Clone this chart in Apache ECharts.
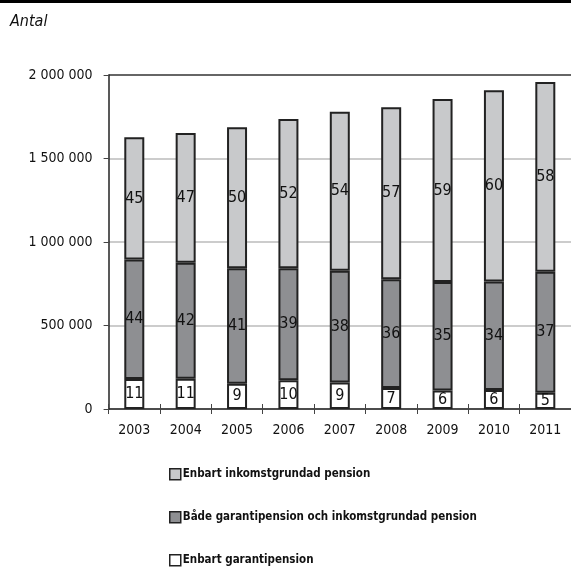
<!DOCTYPE html>
<html>
<head>
<meta charset="utf-8">
<script src="https://cdn.jsdelivr.net/npm/echarts@6/dist/echarts.min.js"></script>
<style>
  html, body { margin: 0; padding: 0; background: #fff; }
  #chart { width: 571px; height: 567px; }
</style>
</head>
<body>
<div id="chart"></div>
<script>
// Pensioners by type of pension, 2003–2011 (total count and share in percent)
var years = ['2003', '2004', '2005', '2006', '2007', '2008', '2009', '2010', '2011'];
var totals = [1627000, 1653000, 1687000, 1719000, 1762000, 1807000, 1856000, 1908000, 1958000];
var pctGarantiOnly = [11, 11, 9, 10, 9, 7, 6, 6, 5];
var pctBoth = [44, 42, 41, 39, 38, 36, 35, 34, 37];
var pctIncomeOnly = [45, 47, 50, 52, 54, 57, 59, 60, 58];
var yTicks = [0, 500000, 1000000, 1500000, 2000000];

var nameIncome = 'Enbart inkomstgrundad pension';
var nameBoth = 'Både garantipension och inkomstgrundad pension';
var nameGaranti = 'Enbart garantipension';
var legendOrder = [nameIncome, nameBoth, nameGaranti];

var FONT = '"Liberation Sans Narrow", "DejaVu Sans Condensed", "Liberation Sans", sans-serif';

// Each segment is the share of the year's total; the label shows the share.
function segment(pcts) {
  return pcts.map(function (p, i) {
    return { value: totals[i] * p / 100, pct: p };
  });
}

function fmtThousands(v) {
  return String(v).replace(/\B(?=(\d{3})+(?!\d))/g, ' ');
}

function barSeries(name, pcts, color) {
  return {
    name: name,
    type: 'bar',
    stack: 'total',
    barWidth: 20,
    data: segment(pcts),
    itemStyle: { color: color, borderColor: '#222', borderWidth: 2 },
    label: {
      show: true,
      position: 'inside',
      color: '#111',
      fontFamily: FONT,
      fontSize: 16,
      formatter: function (p) { return p.data.pct; }
    },
    emphasis: { disabled: true }
  };
}

// One legend block per entry, stacked vertically under the plot
var legends = legendOrder.map(function (name, i) {
  return {
    orient: 'vertical',
    left: 169,
    top: 468 + i * 43,
    padding: 0,
    itemWidth: 11,
    itemHeight: 11,
    itemGap: 3,
    data: [name],
    itemStyle: { borderWidth: 1.5, borderColor: '#222' },
    textStyle: { fontFamily: FONT, fontWeight: 'bold', fontSize: 11.5, color: '#111', padding: [0, 0, 0, -3] },
    icon: 'rect',
    selectedMode: false
  };
});

var chart = echarts.init(document.getElementById('chart'), null, { renderer: 'canvas' });
chart.setOption({
  animation: false,
  backgroundColor: '#fff',
  graphic: [
    { type: 'rect', left: 0, top: 0, shape: { width: 571, height: 3 }, style: { fill: '#000' } },
    {
      type: 'text', left: 10, top: 14,
      style: { text: 'Antal', font: 'italic 16px ' + FONT, fill: '#111' }
    }
  ],
  grid: { left: 108.6, right: -9, top: 75, bottom: 158, containLabel: false },
  legend: legends,
  xAxis: [{
    type: 'category',
    data: years,
    axisLine: { lineStyle: { color: '#222', width: 1.5 } },
    axisTick: { show: true, length: 5, lineStyle: { color: '#444' } },
    axisLabel: { fontFamily: FONT, fontSize: 14, color: '#111', margin: 14 }
  }, {
    type: 'category',
    data: years,
    position: 'bottom',
    axisLine: { show: false },
    axisTick: { show: true, inside: true, length: 5, lineStyle: { color: '#444' } },
    axisLabel: { show: false }
  }],
  yAxis: {
    type: 'value',
    min: 0,
    max: 2000000,
    interval: 500000,
    axisLine: { show: true, lineStyle: { color: '#222', width: 1.5 } },
    axisTick: { show: true, length: 5, lineStyle: { color: '#444' } },
    axisLabel: {
      fontFamily: FONT, fontSize: 14, color: '#111', margin: 16,
      formatter: function (v) { return yTicks.indexOf(v) >= 0 ? fmtThousands(v) : ''; }
    },
    splitLine: {
      show: true,
      lineStyle: { color: ['#cccccc', '#cccccc', '#cccccc', '#cccccc', '#666666'], width: 2 }
    }
  },
  series: [
    barSeries(nameGaranti, pctGarantiOnly, '#ffffff'),
    barSeries(nameBoth, pctBoth, '#8e8f92'),
    barSeries(nameIncome, pctIncomeOnly, '#c8c9cb')
  ]
});
</script>
</body>
</html>
